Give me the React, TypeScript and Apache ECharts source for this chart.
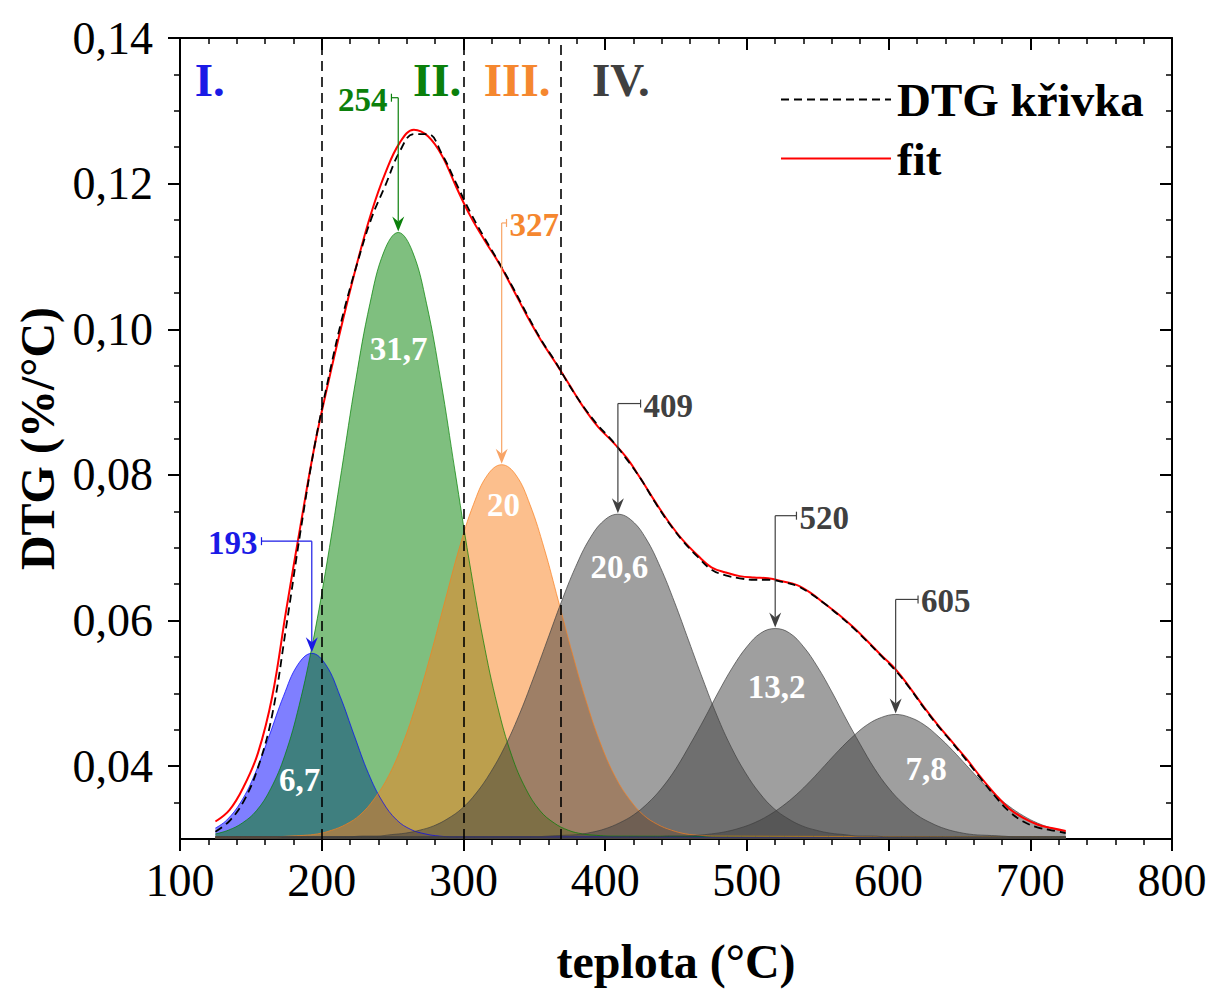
import React, { useEffect, useRef } from 'react';
import * as echarts from 'echarts';

// ---------- data ----------
const temps = [125, 135, 145, 155, 165, 175, 185, 195, 205, 215, 225, 235, 245, 255, 265, 275, 285, 295, 305, 315, 325, 335, 345, 355, 365, 375, 385, 395, 405, 415, 425, 435, 445, 455, 465, 475, 485, 495, 505, 515, 525, 535, 545, 555, 565, 575, 585, 595, 605, 615, 625, 635, 645, 655, 665, 675, 685, 695, 705, 715, 725];

const dtgValues = [0.0310, 0.0325, 0.0352, 0.0398, 0.0470, 0.0592, 0.0722, 0.0840, 0.0935, 0.1020, 0.1090, 0.1152, 0.1198, 0.1244, 0.1268, 0.1268, 0.1240, 0.1200, 0.1160, 0.1125, 0.1092, 0.1057, 0.1020, 0.0985, 0.0955, 0.0922, 0.0893, 0.0868, 0.0847, 0.0822, 0.0795, 0.0763, 0.0734, 0.0709, 0.0688, 0.0670, 0.0662, 0.0658, 0.0656, 0.0656, 0.0653, 0.0648, 0.0637, 0.0623, 0.0607, 0.0590, 0.0571, 0.0551, 0.0531, 0.0507, 0.0480, 0.0455, 0.0432, 0.0408, 0.0383, 0.0359, 0.0338, 0.0324, 0.0316, 0.0312, 0.0308];

const fitValues = [0.0324, 0.0340, 0.0372, 0.0418, 0.0495, 0.0615, 0.0730, 0.0840, 0.0930, 0.1013, 0.1091, 0.1160, 0.1215, 0.1256, 0.1274, 0.1265, 0.1238, 0.1195, 0.1155, 0.1122, 0.1091, 0.1055, 0.1018, 0.0984, 0.0954, 0.0923, 0.0892, 0.0866, 0.0846, 0.0824, 0.0795, 0.0764, 0.0735, 0.0710, 0.0690, 0.0673, 0.0666, 0.0661, 0.0659, 0.0658, 0.0654, 0.0649, 0.0638, 0.0623, 0.0608, 0.0591, 0.0572, 0.0552, 0.0533, 0.0508, 0.0481, 0.0456, 0.0433, 0.0410, 0.0385, 0.0362, 0.0342, 0.0329, 0.0320, 0.0315, 0.0311];

const peak193 = [[125, 0.0315], [133, 0.0326], [143, 0.0351], [153, 0.0390], [163, 0.0442], [173, 0.0496], [183, 0.0539], [193, 0.0555], [203, 0.0539], [213, 0.0496], [223, 0.0442], [233, 0.0390], [243, 0.0351], [253, 0.0326], [263, 0.0313], [273, 0.0307], [283, 0.0304], [293, 0.0303], [725, 0.0303]];

const peak254 = [[125, 0.0307], [134, 0.0312], [144, 0.0322], [154, 0.0339], [164, 0.0369], [174, 0.0415], [184, 0.0483], [194, 0.0573], [204, 0.0683], [214, 0.0806], [224, 0.0930], [234, 0.1035], [244, 0.1107], [254, 0.1133], [264, 0.1107], [274, 0.1035], [284, 0.0930], [294, 0.0806], [304, 0.0683], [314, 0.0573], [324, 0.0483], [334, 0.0415], [344, 0.0369], [354, 0.0339], [364, 0.0322], [374, 0.0312], [384, 0.0307], [394, 0.0305], [404, 0.0304], [725, 0.0303]];

const peak327 = [[125, 0.0303], [167, 0.0303], [177, 0.0304], [187, 0.0305], [197, 0.0307], [207, 0.0312], [217, 0.0320], [227, 0.0333], [237, 0.0355], [247, 0.0386], [257, 0.0430], [267, 0.0487], [277, 0.0554], [287, 0.0627], [297, 0.0699], [307, 0.0759], [317, 0.0800], [327, 0.0814], [337, 0.0800], [347, 0.0759], [357, 0.0699], [367, 0.0627], [377, 0.0554], [387, 0.0487], [397, 0.0430], [407, 0.0386], [417, 0.0355], [427, 0.0333], [437, 0.0320], [447, 0.0312], [457, 0.0307], [467, 0.0305], [477, 0.0304], [725, 0.0303]];

const peak409 = [[125, 0.0303], [219, 0.0303], [229, 0.0304], [239, 0.0304], [249, 0.0306], [259, 0.0308], [269, 0.0312], [279, 0.0318], [289, 0.0328], [299, 0.0342], [309, 0.0363], [319, 0.0391], [329, 0.0426], [339, 0.0469], [349, 0.0519], [359, 0.0572], [369, 0.0625], [379, 0.0673], [389, 0.0712], [399, 0.0737], [409, 0.0746], [419, 0.0737], [429, 0.0712], [439, 0.0673], [449, 0.0625], [459, 0.0572], [469, 0.0519], [479, 0.0469], [489, 0.0426], [499, 0.0391], [509, 0.0363], [519, 0.0342], [529, 0.0328], [539, 0.0318], [549, 0.0312], [559, 0.0308], [569, 0.0306], [579, 0.0304], [589, 0.0304], [599, 0.0303], [725, 0.0303]];

const peak520 = [[125, 0.0303], [350, 0.0303], [360, 0.0304], [370, 0.0305], [380, 0.0306], [390, 0.0309], [400, 0.0314], [410, 0.0322], [420, 0.0333], [430, 0.0349], [440, 0.0370], [450, 0.0397], [460, 0.0430], [470, 0.0465], [480, 0.0502], [490, 0.0536], [500, 0.0564], [510, 0.0583], [520, 0.0589], [530, 0.0583], [540, 0.0564], [550, 0.0536], [560, 0.0502], [570, 0.0465], [580, 0.0430], [590, 0.0397], [600, 0.0370], [610, 0.0349], [620, 0.0333], [630, 0.0322], [640, 0.0314], [650, 0.0309], [660, 0.0306], [670, 0.0305], [680, 0.0304], [690, 0.0303], [725, 0.0303]];

const peak605 = [[125, 0.0303], [435, 0.0303], [445, 0.0304], [455, 0.0304], [465, 0.0305], [475, 0.0307], [485, 0.0310], [495, 0.0315], [505, 0.0322], [515, 0.0332], [525, 0.0345], [535, 0.0361], [545, 0.0380], [555, 0.0401], [565, 0.0422], [575, 0.0441], [585, 0.0457], [595, 0.0467], [605, 0.0471], [615, 0.0467], [625, 0.0457], [635, 0.0441], [645, 0.0422], [655, 0.0401], [665, 0.0380], [675, 0.0361], [685, 0.0345], [695, 0.0332], [705, 0.0322], [715, 0.0315], [725, 0.0310]];

const peakCenters = [193, 254, 327, 409, 520, 605];
const peakTops = [0.0555, 0.1133, 0.0814, 0.0746, 0.0589, 0.0471];
const peakShares = ['6,7', '31,7', '20', '20,6', '13,2', '7,8'];
const regionBounds = [200, 300, 369];
const regionNames = ['I.', 'II.', 'III.', 'IV.'];
const yMajor = [0.04, 0.06, 0.08, 0.10, 0.12, 0.14];
const yMinor = [0.035, 0.045, 0.05, 0.055, 0.065, 0.07, 0.075, 0.085, 0.09, 0.095, 0.105, 0.11, 0.115, 0.125, 0.13, 0.135];

// ---------- layout of annotations (data coordinates) ----------
const calloutLevel = [0.0709, 0.1318, 0.1146, 0.0898, 0.0744, 0.0629];
const calloutTickX = [157.5, 249.2, 330.4, 425, 535, 620.8];
const calloutSide = ['left', 'left', 'right', 'right', 'right', 'right'];
const sharePos = [[184.5, 0.0381], [254.3, 0.0973], [328.2, 0.0758], [410.1, 0.0673], [521, 0.0509], [626.5, 0.0396]];
const regionPos = [[121, 0.1342], [281.5, 0.1342], [337.9, 0.1342], [411.1, 0.1342]];

const peakColors = ['#0000ff', '#008000', '#f97f1c', '#404040', '#404040', '#404040'];
const textColors = ['#1a1ae6', '#0b800b', '#f5872f', '#404040', '#404040', '#404040'];
const regionColors = ['#1a1ae6', '#0b800b', '#f5872f', '#404040'];

const FONT = "'Liberation Serif', 'Times New Roman', serif";

export default function App() {
  const ref = useRef<HTMLDivElement>(null);

  useEffect(() => {
    const chart = echarts.init(ref.current!, null, { renderer: 'svg' });
    const peaks = [peak193, peak254, peak327, peak409, peak520, peak605];
    const fmt = (v: number) => v.toFixed(2).replace('.', ',');
    const lineBlack = { color: '#000', width: 2 };

    const peakSeries = peaks.map((p, i) => ({
      type: 'line',
      name: 'peak' + peakCenters[i],
      data: p,
      smooth: 0.4,
      symbol: 'none',
      lineStyle: { color: peakColors[i], width: 1, opacity: 0.7 },
      areaStyle: { color: peakColors[i], opacity: 0.5, origin: 'start' },
      z: 2,
      silent: true,
    }));

    const option: any = {
      animation: false,
      backgroundColor: '#ffffff',
      grid: { left: 180, right: 41, top: 38, bottom: 151 },
      legend: {
        data: ['DTG křivka', 'fit'],
        orient: 'vertical',
        left: 775,
        top: 71,
        itemWidth: 110,
        itemHeight: 16,
        itemGap: 12,
        itemStyle: { opacity: 0, borderWidth: 0 },
        textStyle: { fontFamily: FONT, fontSize: 47, fontWeight: 'bold', color: '#000', padding: [0, 0, 0, 1] },
      },
      xAxis: [
        {
          type: 'value', position: 'bottom', min: 100, max: 800, interval: 100,
          axisLine: { show: true, lineStyle: lineBlack },
          axisTick: { show: true, length: 12, lineStyle: lineBlack },
          minorTick: { show: true, splitNumber: 5, length: 6, lineStyle: { color: '#000', width: 1.5 } },
          axisLabel: { fontFamily: FONT, fontSize: 46, color: '#000', margin: 18 },
          splitLine: { show: false },
          name: 'teplota (°C)', nameLocation: 'middle', nameGap: 98,
          nameTextStyle: { fontFamily: FONT, fontSize: 48, fontWeight: 'bold', color: '#000' },
        },
        {
          type: 'value', position: 'top', min: 100, max: 800, interval: 100,
          axisLine: { show: true, lineStyle: lineBlack },
          axisTick: { show: true, inside: true, length: 12, lineStyle: lineBlack },
          minorTick: { show: true, splitNumber: 5, length: 6, lineStyle: { color: '#000', width: 1.5 } },
          axisLabel: { show: false },
          splitLine: { show: false },
        },
      ],
      yAxis: [
        {
          type: 'value', position: 'left', min: 0.03, max: 0.14,
          axisLine: { show: true, lineStyle: lineBlack },
          axisTick: { show: true, length: 12, customValues: yMajor, lineStyle: lineBlack },
          axisLabel: { customValues: yMajor, formatter: fmt, fontFamily: FONT, fontSize: 46, color: '#000', margin: 27 },
          splitLine: { show: false },
          name: 'DTG (%/°C)', nameLocation: 'middle', nameGap: 113,
          nameTextStyle: { fontFamily: FONT, fontSize: 48, fontWeight: 'bold', color: '#000' },
        },
        {
          type: 'value', position: 'left', min: 0.03, max: 0.14,
          axisLine: { show: false },
          axisTick: { show: true, length: 6, customValues: yMinor, lineStyle: { color: '#000', width: 1.5 } },
          axisLabel: { show: false },
          splitLine: { show: false },
        },
        {
          type: 'value', position: 'right', min: 0.03, max: 0.14,
          axisLine: { show: true, lineStyle: lineBlack },
          axisTick: { show: true, inside: true, length: 12, customValues: yMajor, lineStyle: lineBlack },
          axisLabel: { show: false },
          splitLine: { show: false },
        },
        {
          type: 'value', position: 'right', min: 0.03, max: 0.14,
          axisLine: { show: false },
          axisTick: { show: true, inside: true, length: 6, customValues: yMinor, lineStyle: { color: '#000', width: 1.5 } },
          axisLabel: { show: false },
          splitLine: { show: false },
        },
      ],
      series: [
        ...peakSeries,
        {
          type: 'line', name: 'fit',
          data: temps.map((t, i) => [t, fitValues[i]]),
          smooth: 0.4, symbol: 'none', showSymbol: false,
          lineStyle: { color: '#ff0000', width: 2 },
          itemStyle: { color: '#ff0000' },
          z: 4,
          markLine: {
            silent: true, symbol: ['none', 'none'],
            label: { show: false },
            lineStyle: { color: '#000', width: 1.6, type: [10, 6] },
            data: regionBounds.map((b) => ({ xAxis: b })),
          },
        },
        {
          type: 'line', name: 'DTG křivka',
          data: temps.map((t, i) => [t, dtgValues[i]]),
          smooth: 0.4, symbol: 'none', showSymbol: false,
          lineStyle: { color: '#000', width: 1.8, type: [8, 5] },
          itemStyle: { color: '#000' },
          z: 5,
        },
      ],
    };

    chart.setOption(option);

    const toPx = (x: number, y: number) => chart.convertToPixel({ gridIndex: 0 }, [x, y]) as number[];
    const graphics: any[] = [];

    // region labels
    regionNames.forEach((n, i) => {
      const [px, py] = toPx(regionPos[i][0], regionPos[i][1]);
      graphics.push({
        type: 'text', x: px, y: py, z: 100,
        style: { text: n, fill: regionColors[i], font: `bold 47px ${FONT}`, textAlign: 'center', textVerticalAlign: 'middle', verticalAlign: 'middle' },
      });
    });

    // callouts
    peakCenters.forEach((c, i) => {
      const [cx, topY] = toPx(c, peakTops[i]);
      const [, ly] = toPx(c, calloutLevel[i]);
      const [tx] = toPx(calloutTickX[i], calloutLevel[i]);
      const col = textColors[i];
      const lineCol = i === 2 ? '#f8a466' : col;
      const tip = topY - 1;
      graphics.push({ type: 'line', z: 100, shape: { x1: cx, y1: ly, x2: cx, y2: tip - 10 }, style: { stroke: lineCol, lineWidth: 1.2 } });
      graphics.push({ type: 'line', z: 100, shape: { x1: cx, y1: ly, x2: tx, y2: ly }, style: { stroke: lineCol, lineWidth: 1.2 } });
      graphics.push({ type: 'line', z: 100, shape: { x1: tx, y1: ly - 4, x2: tx, y2: ly + 4 }, style: { stroke: lineCol, lineWidth: 1.2 } });
      graphics.push({
        type: 'polygon', z: 100,
        shape: { points: [[cx, tip], [cx - 6, tip - 15], [cx, tip - 10], [cx + 6, tip - 15]] },
        style: { fill: lineCol },
      });
      const left = calloutSide[i] === 'left';
      graphics.push({
        type: 'text', z: 100, x: left ? tx - 4 : tx + 3, y: ly + 2,
        style: { text: String(c), fill: col, font: `bold 33px ${FONT}`, textAlign: left ? 'right' : 'left', textVerticalAlign: 'middle', verticalAlign: 'middle' },
      });
    });

    // shares inside peaks
    peakShares.forEach((s, i) => {
      const [px, py] = toPx(sharePos[i][0], sharePos[i][1]);
      graphics.push({
        type: 'text', z: 100, x: px, y: py,
        style: { text: s, fill: '#ffffff', font: `bold 33px ${FONT}`, textAlign: 'center', textVerticalAlign: 'middle', verticalAlign: 'middle' },
      });
    });

    chart.setOption({ graphic: graphics });

    return () => chart.dispose();
  }, []);

  return (
    <div
      ref={ref}
      style={{ position: 'fixed', left: 0, top: 0, width: 1213, height: 990, background: '#ffffff' }}
    />
  );
}
